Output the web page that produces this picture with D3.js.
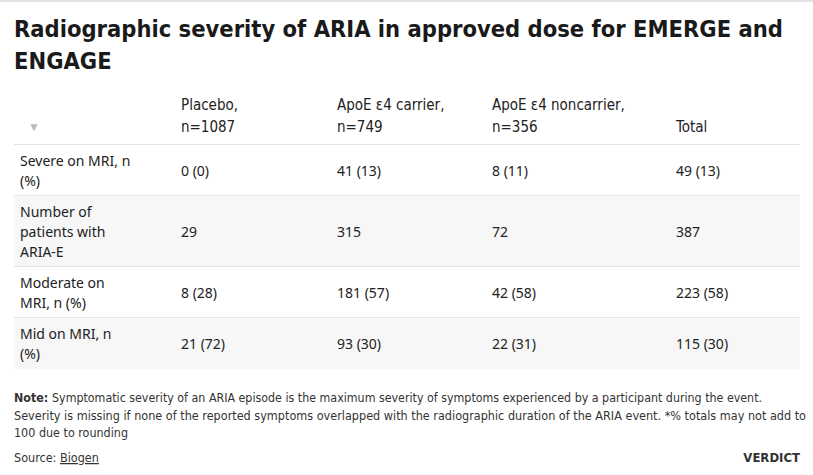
<!DOCTYPE html>
<html>
<head>
<meta charset="utf-8">
<script src="https://cdn.jsdelivr.net/npm/d3@7"></script>
<style>
  body { margin: 0; background: #fff; }
  svg text { fill: #222; }
  .title { font-family: "Liberation Sans Narrow", "DejaVu Sans Condensed", "Roboto", sans-serif; font-weight: bold; font-size: 23.5px; fill: #1a1a1a; }
  .head { font-family: "Liberation Sans Narrow", "DejaVu Sans Condensed", sans-serif; font-size: 15px; }
  .cell { font-family: "Noto Sans", "Open Sans", sans-serif; font-size: 14px; }
  .note { font-family: "Liberation Sans Narrow", "DejaVu Sans Condensed", sans-serif; font-size: 12.5px; fill: #333; }
  .brand { font-family: "Liberation Sans Narrow", "DejaVu Sans Condensed", sans-serif; font-size: 13px; font-weight: bold; fill: #333; }
</style>
</head>
<body>
<svg id="chart"></svg>
<script>
// table content
var titleLines = ["Radiographic severity of ARIA in approved dose for EMERGE and", "ENGAGE"];
var columns = [["Placebo,", "n=1087"], ["ApoE \u03b54 carrier,", "n=749"], ["ApoE \u03b54 noncarrier,", "n=356"], ["Total"]];
var rowLabels = [
  ["Severe on MRI, n", "(%)"],
  ["Number of", "patients with", "ARIA-E"],
  ["Moderate on", "MRI, n (%)"],
  ["Mid on MRI, n", "(%)"]
];
var placebo     = ["0 (0)", "29", "8 (28)", "21 (72)"];
var carrier     = ["41 (13)", "315", "181 (57)", "93 (30)"];
var noncarrier  = ["8 (11)", "72", "42 (58)", "22 (31)"];
var total       = ["49 (13)", "387", "223 (58)", "115 (30)"];
var noteLines = [
  "Symptomatic severity of an ARIA episode is the maximum severity of symptoms experienced by a participant during the event.",
  "Severity is missing if none of the reported symptoms overlapped with the radiographic duration of the ARIA event. *% totals may not add to",
  "100 due to rounding"
];

var W = 813, H = 475;
var left = 14, right = 800;
var lineH = 20, rowPad = 11;
var colX = [20, 181, 337, 492, 676];
var headTop = 145;
// widths the note lines take up in the original layout
var noteWidths = [748, 792, 114];

var svg = d3.select("#chart").attr("width", W).attr("height", H);

// top rule
svg.append("rect").attr("x", 0).attr("y", 0).attr("width", W).attr("height", 2).attr("fill", "#e4e4e4");

titleLines.forEach(function(t, i){
  svg.append("text").attr("class", "title").attr("x", left).attr("y", 37 + i*32).text(t);
});

// header
svg.append("text").attr("x", 28).attr("y", 131).attr("font-size", 12).style("fill", "#bbb").text("\u25BC");
columns.forEach(function(lines, c){
  lines.forEach(function(l, j){
    var y = 132 - (lines.length - 1 - j) * 22;
    svg.append("text").attr("class", "head").attr("x", colX[c+1]).attr("y", y).text(l);
  });
});
svg.append("line").attr("x1", left).attr("x2", right).attr("y1", headTop).attr("y2", headTop)
  .attr("stroke", "#d8d8d8").attr("stroke-width", 1.5);

// rows
var rows = rowLabels.map(function(lab, i){
  return {label: lab, cells: [placebo[i], carrier[i], noncarrier[i], total[i]]};
});
var y0 = headTop;
rows.forEach(function(r, i){
  var h = r.label.length * lineH + rowPad;
  r.y = y0; r.h = h; y0 += h;
});

var g = svg.selectAll(".row").data(rows).enter().append("g").attr("class", "row")
  .attr("transform", function(d){ return "translate(0," + d.y + ")"; });

g.append("rect").attr("x", left).attr("width", right - left).attr("height", function(d){ return d.h; })
  .attr("fill", function(d, i){ return i % 2 ? "#f7f7f7" : "#fff"; });
g.filter(function(d, i){ return i < rows.length - 1; }).append("line")
  .attr("x1", left).attr("x2", right)
  .attr("y1", function(d){ return d.h; }).attr("y2", function(d){ return d.h; })
  .attr("stroke", "#dcdcdc").attr("stroke-width", 1.5);

g.each(function(d){
  var sel = d3.select(this);
  var mid = d.h / 2;
  var n = d.label.length;
  d.label.forEach(function(l, j){
    sel.append("text").attr("class", "cell").attr("x", colX[0])
      .attr("y", mid + (j - (n - 1) / 2) * lineH + 5).text(l);
  });
  d.cells.forEach(function(v, c){
    sel.append("text").attr("class", "cell").attr("x", colX[c+1]).attr("y", mid + 5).text(v);
  });
});

// notes
var nt = svg.append("text").attr("class", "note").attr("x", left).attr("y", 402)
  .attr("textLength", noteWidths[0]).attr("lengthAdjust", "spacingAndGlyphs");
nt.append("tspan").style("font-weight", "bold").text("Note: ");
nt.append("tspan").text(noteLines[0]);
noteLines.slice(1).forEach(function(l, i){
  svg.append("text").attr("class", "note").attr("x", left).attr("y", 420 + i*17)
    .attr("textLength", noteWidths[i+1]).attr("lengthAdjust", "spacingAndGlyphs").text(l);
});
var src = svg.append("text").attr("class", "note").attr("x", left).attr("y", 462);
src.append("tspan").text("Source: ");
src.append("tspan").style("text-decoration", "underline").text("Biogen");
svg.append("text").attr("class", "brand").attr("x", right).attr("y", 462).attr("text-anchor", "end").text("VERDICT");
</script>
</body>
</html>
